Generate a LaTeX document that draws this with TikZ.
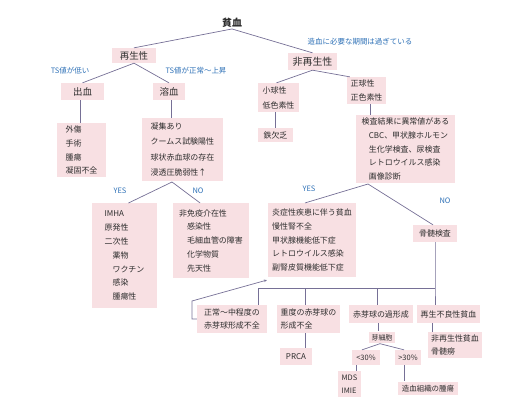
\documentclass[tikz,border=0pt]{standalone}
\usepackage{fontspec}
\setmainfont{Noto Sans CJK JP}
\usetikzlibrary{arrows.meta}
\definecolor{boxpink}{RGB}{248,224,227}
\definecolor{linegray}{RGB}{118,112,150}
\definecolor{lblblue}{RGB}{45,112,182}
\definecolor{txtgray}{RGB}{45,45,45}

\begin{document}
\begin{tikzpicture}[x=1bp,y=-1bp,
    bx/.style 2 args={fill=boxpink,inner sep=0pt,minimum width=#1,minimum height=#2,align=left,
      text=txtgray,font=\fontsize{8}{14}\selectfont},
    head/.style={font=\fontsize{9.5}{12}\selectfont},
    lbl/.style={text=lblblue,font=\fontsize{7.5}{9}\selectfont,inner sep=0pt},
    ln/.style={draw=linegray,line width=0.7bp}]
    \useasboundingbox (0,0) rectangle (507,406);
    % top level
    \node[text=txtgray,font=\fontsize{10}{12}\selectfont\bfseries,inner sep=1pt] (anemia) at (232,23) {貧血};
    \node[bx={44}{15},head] (regen) at (134,55.5) {再生性};
    \node[bx={49}{17},head,font=\fontsize{10}{12}\selectfont] (nonregen) at (312.5,61.5) {非再生性};
    \draw[ln] (anemia.south) -- (regen.north);
    \draw[ln] (anemia.south) -- (nonregen.north);
    \node[lbl] (lblperiod) at (360,42) {造血に必要な期間は過ぎている};
    % regenerative branch
    \node[bx={43}{17},head] (bleed) at (82.5,91.5) {出血};
    \node[bx={32}{17},head] (hemo) at (169,91.5) {溶血};
    \draw[ln] (regen.south) -- (bleed.north);
    \draw[ln] (regen.south) -- (hemo.north);
    \node[lbl] (lbllow) at (70,71) {TS値が低い};
    \node[lbl] (lblnormal) at (196,71) {TS値が正常〜上昇};
    \node[bx={49}{54}] (bleedlist) at (81.5,150) {外傷\\手術\\腫瘍\\凝固不全};
    \draw[ln] ([xshift=-2]bleed.south) -- ([xshift=-2]bleed.south |- bleedlist.north);
    \node[bx={81}{63},font=\fontsize{8}{15.3}\selectfont] (hemolist) at (182.5,149.5)
      {凝集あり\\クームス試験陽性\\球状赤血球の存在\\浸透圧脆弱性↑};
    \draw[ln] ([xshift=2]hemo.south) -- ([xshift=2]hemo.south |- hemolist.north);
    \coordinate (hsplit) at (172,182);
    \node[bx={65}{105}] (imha) at (124.5,255.5)
      {IMHA\\原発性\\二次性\\\hspace*{1em}薬物\\\hspace*{1em}ワクチン\\\hspace*{1em}感染\\\hspace*{1em}腫瘍性};
    \node[bx={76}{75},font=\fontsize{8}{13.8}\selectfont] (nonimm) at (211,240.5)
      {非免疫介在性\\\hspace*{1em}感染性\\\hspace*{1em}毛細血管の障害\\\hspace*{1em}化学物質\\\hspace*{1em}先天性};
    \draw[ln] (hsplit) -- ([xshift=4]imha.north);
    \draw[ln] (hsplit) -- ([xshift=-11]nonimm.north);
    \node[lbl] (lblyes) at (120,191) {YES};
    \node[lbl] (lblno) at (198,191) {NO};
    % non-regenerative branch
    \node[bx={41}{29},font=\fontsize{8}{15}\selectfont] (micro) at (278.5,97.5) {小球性\\低色素性};
    \node[bx={39}{27}] (normo) at (366.5,90.5) {正球性\\正色素性};
    \draw[ln] (nonregen.south) -- ([xshift=-2]micro.north);
    \draw[ln] (nonregen.south) -- ([xshift=3]normo.north west);
    \node[bx={35}{14}] (iron) at (275.5,135) {鉄欠乏};
    \draw[ln] (iron.north |- micro.south) -- (iron.north);
    \node[bx={99}{68},font=\fontsize{8}{13.7}\selectfont] (exam) at (405.5,149)
      {検査結果に異常値がある\\\hspace*{0.9em}CBC、甲状腺ホルモン\\\hspace*{0.9em}生化学検査、尿検査\\\hspace*{0.9em}レトロウイルス感染\\\hspace*{0.9em}画像診断};
    \draw[ln] ([xshift=3.5]normo.south) -- ([xshift=3.5]normo.south |- exam.north);
    \coordinate (esplit) at (368,184);
    \node[bx={88}{74},font=\fontsize{8}{13.6}\selectfont] (inflam) at (312,240)
      {炎症性疾患に伴う貧血\\慢性腎不全\\甲状腺機能低下症\\レトロウイルス感染\\副腎皮質機能低下症};
    \node[bx={44}{17}] (marrow) at (435,233.5) {骨髄検査};
    \draw[ln] (esplit) -- ([xshift=-7]inflam.north);
    \draw[ln] (esplit) -- ([xshift=-2]marrow.north);
    \node[lbl] (lblyes2) at (309,189) {YES};
    \node[lbl] (lblno2) at (445,201) {NO};
    % bone marrow results
    \coordinate (busL) at (258,288);
    \coordinate (busR) at (marrow.south |- busL);
    \node[bx={70}{28},font=\fontsize{8}{13}\selectfont] (mild) at (232,319) {正常〜中程度の\\赤芽球形成不全};
    \node[bx={63}{28},font=\fontsize{8}{13}\selectfont] (severe) at (308.5,319) {重度の赤芽球の\\形成不全};
    \node[bx={64}{18}] (hyper) at (381,314) {赤芽球の過形成};
    \node[bx={63}{18}] (aplastic) at (448.5,314) {再生不良性貧血};
    \draw[ln] (marrow.south) -- (busR) -- (busR |- aplastic.north);
    \draw[ln] (busR) -- (busL) -- (busL |- mild.north);
    \draw[ln] ([xshift=-3.5]severe.north |- busL) -- ([xshift=-3.5]severe.north);
    \draw[ln] ([xshift=-4]hyper.north |- busL) -- ([xshift=-4]hyper.north);
    \draw[ln,-{Stealth[length=3bp,width=2.5bp]}] (mild.west) -- ++(-5,0) -- ++(0,-18) -- ([xshift=-1,yshift=-3]inflam.south west);
    \node[bx={32}{17}] (prca) at (296,356.5) {PRCA};
    \draw[ln] ([xshift=-3.5]severe.south) -- ([xshift=-3.5]severe.south |- prca.north);
    \node[bx={54}{26},font=\fontsize{8}{13}\selectfont] (aplist) at (455,345) {非再生性貧血\\骨髄癆};
    \draw[ln] ([xshift=4]aplist.north west |- aplastic.south) -- ([xshift=4]aplist.north west);
    \node[bx={26}{12},font=\fontsize{7}{9}\selectfont] (blast) at (382,337.5) {芽細胞};
    \draw[ln] ([xshift=-4]blast.north |- hyper.south) -- ([xshift=-4]blast.north);
    \node[bx={28}{15},font=\fontsize{7.5}{9}\selectfont] (lt30) at (366,357.5) {<30\%};
    \node[bx={26}{15},font=\fontsize{7.5}{9}\selectfont] (gt30) at (408,357.5) {>30\%};
    \draw[ln] ([xshift=-2]blast.south) -- ([xshift=-4]lt30.north);
    \draw[ln] ([xshift=-2]blast.south) -- ([xshift=-4]gt30.north);
    \node[bx={24}{26},font=\fontsize{7.5}{13}\selectfont] (mds) at (349.5,384) {MDS\\IMIE};
    \draw[ln] ([xshift=5]lt30.south west) -- ([xshift=5]lt30.south west |- mds.north);
    \node[bx={60}{14},font=\fontsize{7.5}{9}\selectfont] (tumor) at (428,388.5) {造血組織の腫瘍};
    \draw[ln] ([xshift=-4]gt30.south) -- ([xshift=-4]gt30.south |- tumor.north);
\end{tikzpicture}
\end{document}
